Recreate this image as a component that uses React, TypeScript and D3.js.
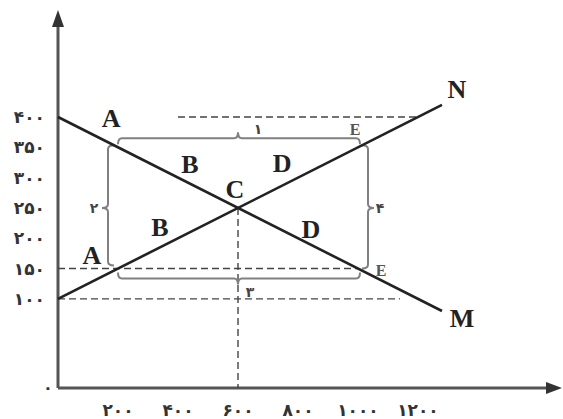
import React from 'react'
import { scaleLinear, line } from 'd3'

const W = 563
const H = 419

// tick values and their Persian labels
const xTicks = [200, 400, 600, 800, 1000, 1200]
const xTickLabels = ['۲۰۰', '۴۰۰', '۶۰۰', '۸۰۰', '۱۰۰۰', '۱۲۰۰']
const yTicks = [100, 150, 200, 250, 300, 350, 400]
const yTickLabels = ['۱۰۰', '۱۵۰', '۲۰۰', '۲۵۰', '۳۰۰', '۳۵۰', '۴۰۰']

// the two lines: M (falling) and N (rising)
const lineM = [[0, 400], [1280, 80]]
const lineN = [[0, 100], [1280, 420]]

// dashed guides [x1, y1, x2, y2]
const guides = [
  [400, 400, 1200, 400],
  [0, 150, 1000, 150],
  [0, 100, 1140, 100],
  [600, 250, 600, -47],
]

// rectangle bounded by the braces
const rectX = [200, 1000]
const rectY = [150, 350]
const braceTips = { top: 600, bottom: 600, left: 250, right: 250 }
const braceLabels = { top: '۱', left: '۲', bottom: '۳', right: '۴' }

// letters on the chart
const letters = [
  { t: 'A', x: 177, y: 398, big: true },
  { t: 'A', x: 113, y: 171, big: true },
  { t: 'B', x: 440, y: 322, big: true },
  { t: 'B', x: 340, y: 217, big: true },
  { t: 'C', x: 590, y: 281, big: true },
  { t: 'D', x: 747, y: 324, big: true },
  { t: 'D', x: 843, y: 215, big: true },
  { t: 'E', x: 990, y: 380, big: false },
  { t: 'E', x: 1077, y: 146, big: false },
  { t: 'N', x: 1330, y: 446, big: true },
  { t: 'M', x: 1347, y: 68, big: true },
]

const x = scaleLinear().domain([0, 1200]).range([58, 418])
const y = scaleLinear().domain([-47, 400]).range([388, 117])

const path = line<number[]>().x(d => x(d[0])).y(d => y(d[1]))

// horizontal brace; dir -1 tip up, 1 tip down
const hBrace = (x1: number, x2: number, yy: number, xm: number, dir: number) => {
  const h = 6, r = 4, t = 6
  return `M${x1},${yy - dir * h} Q${x1},${yy} ${x1 + r},${yy} L${xm - r},${yy} Q${xm},${yy} ${xm},${yy + dir * t} Q${xm},${yy} ${xm + r},${yy} L${x2 - r},${yy} Q${x2},${yy} ${x2},${yy - dir * h}`
}
// vertical brace; dir -1 tip left, 1 tip right
const vBrace = (y1: number, y2: number, xx: number, ym: number, dir: number) => {
  const h = 6, r = 4, t = 6
  return `M${xx - dir * h},${y1} Q${xx},${y1} ${xx},${y1 + r} L${xx},${ym - r} Q${xx},${ym} ${xx + dir * t},${ym} Q${xx},${ym} ${xx},${ym + r} L${xx},${y2 - r} Q${xx},${y2} ${xx - dir * h},${y2}`
}

export default function App() {
  const x0 = x(0)
  const yBase = y(-47)
  const gap = 10
  const left = x(rectX[0]), right = x(rectX[1])
  const top = y(rectY[1]), bottom = y(rectY[0])
  const braceColor = '#808080'
  const digitFont = '"DejaVu Sans", sans-serif'

  return (
    <svg width={W} height={H} style={{ position: 'fixed', top: 0, left: 0, background: '#fff' }}>
      {/* axes */}
      <line x1={x0} y1={yBase} x2={x0} y2={24} stroke="#555" strokeWidth={3} />
      <path d={`M${x0},10 L${x0 - 6},27 L${x0 + 6},27 Z`} fill="#333" />
      <line x1={x0} y1={yBase} x2={548} y2={yBase} stroke="#555" strokeWidth={3} />
      <path d={`M562,${yBase} L546,${yBase - 6} L546,${yBase + 6} Z`} fill="#333" />
      <text x={48} y={393} fontSize={16} fontFamily={digitFont} fontWeight="bold" textAnchor="middle" fill="#333">۰</text>

      {/* dashed guides */}
      {guides.map((g, i) => (
        <line key={i} x1={x(g[0])} y1={y(g[1])} x2={x(g[2])} y2={y(g[3])}
          stroke="#444" strokeWidth={1.4} strokeDasharray="7,4" />
      ))}

      {/* braces */}
      <g fill="none" stroke={braceColor} strokeWidth={2}>
        <path d={hBrace(left, right + 2, top - gap + 1, x(braceTips.top), -1)} />
        <path d={hBrace(left, right + 2, bottom + gap, x(braceTips.bottom), 1)} />
        <path d={vBrace(top - 2, bottom - 3, left - gap, y(braceTips.left), -1)} />
        <path d={vBrace(top - 2, bottom, right + gap, y(braceTips.right), 1)} />
      </g>
      <g fontFamily={digitFont} fontWeight="bold" fontSize={14} fill="#444" textAnchor="middle">
        <text x={x(braceTips.top) + 20} y={top - gap - 3}>{braceLabels.top}</text>
        <text x={x(braceTips.bottom) + 12} y={bottom + gap + 18}>{braceLabels.bottom}</text>
        <text x={left - gap - 14} y={y(braceTips.left) + 5}>{braceLabels.left}</text>
        <text x={right + gap + 12} y={y(braceTips.right) + 5}>{braceLabels.right}</text>
      </g>

      {/* main lines */}
      <path d={path(lineM) ?? ''} fill="none" stroke="#222" strokeWidth={2.6} />
      <path d={path(lineN) ?? ''} fill="none" stroke="#222" strokeWidth={2.6} />

      {/* letters */}
      {letters.map((l, i) => (
        <text key={i} x={x(l.x)} y={y(l.y)} dominantBaseline="central" textAnchor="middle"
          fontFamily='"Liberation Serif", serif' fontWeight="bold"
          fontSize={l.big ? 26 : 16} fill={l.big ? '#222' : '#555'}>{l.t}</text>
      ))}

      {/* tick labels */}
      <g fontFamily={digitFont} fontWeight="bold" fontSize={17} fill="#333" letterSpacing={1}>
        {yTicks.map((v, i) => (
          <text key={v} x={45} y={y(v) + 6} textAnchor="end">{yTickLabels[i]}</text>
        ))}
        {xTicks.map((v, i) => (
          <text key={v} x={x(v)} y={416} textAnchor="middle">{xTickLabels[i]}</text>
        ))}
      </g>
    </svg>
  )
}
